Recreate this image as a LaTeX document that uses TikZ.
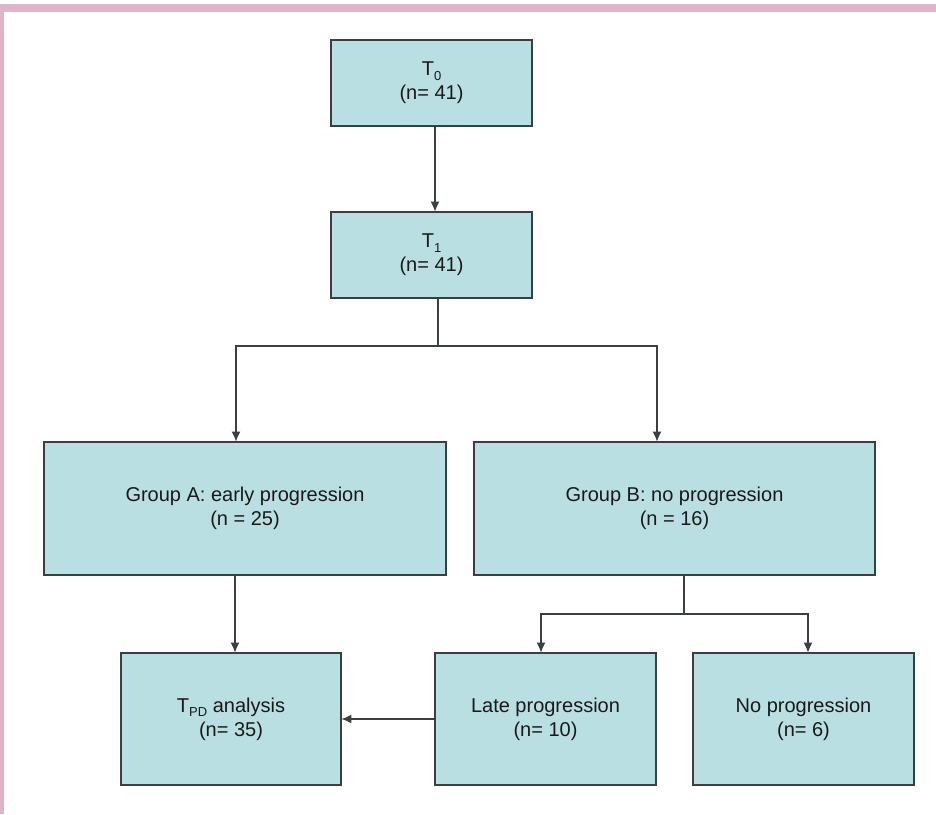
\documentclass[tikz,border=0pt]{standalone}
\usepackage{fontspec}
\setmainfont{Liberation Sans}
\usetikzlibrary{arrows.meta}
\definecolor{boxfill}{RGB}{186,223,226}
\definecolor{boxline}{RGB}{58,64,66}
\definecolor{pinkedge}{RGB}{221,181,200}
\definecolor{txt}{RGB}{25,25,25}
\tikzset{
  flowbox/.style={draw=boxline, fill=boxfill, line width=1.7pt, rectangle, align=center,
    inner sep=0pt, text=txt, font=\fontsize{20}{24}\selectfont},
  conn/.style={draw=boxline, line width=1.6pt},
  arr/.style={conn, -{Latex[length=10pt,width=9pt]}, shorten >=-0.5pt}
}
\newcommand{\lowsub}[1]{\raisebox{-0.45ex}{\fontsize{13}{13}\selectfont #1}}
\begin{document}
\begin{tikzpicture}[x=1pt,y=-1pt]
\useasboundingbox (0,0) rectangle (936,814);
\fill[white] (0,0) rectangle (936,814);
\fill[pinkedge] (0,4) rectangle (936,12);
\fill[pinkedge] (0,4) rectangle (4,814);

\node[flowbox, minimum width=201pt, minimum height=86pt] (T0) at (431.5,83) {T\lowsub{0}\\(n= 41)};
\node[flowbox, minimum width=201pt, minimum height=86pt] (T1) at (431.5,255) {T\lowsub{1}\\(n= 41)};
\node[flowbox, minimum width=402pt, minimum height=133pt] (A) at (245,508.5) {Group A: early progression\\(n = 25)};
\node[flowbox, minimum width=401pt, minimum height=133pt] (B) at (674.5,508.5) {Group B: no progression\\(n = 16)};
\node[flowbox, minimum width=220pt, minimum height=132pt] (TPD) at (231,719) {T\lowsub{PD} analysis\\(n= 35)};
\node[flowbox, minimum width=221pt, minimum height=132pt] (Late) at (545.5,719) {Late progression\\(n= 10)};
\node[flowbox, minimum width=221pt, minimum height=132pt] (NoP) at (803.5,719) {No progression\\(n= 6)};

% T0 -> T1
\coordinate (c01) at (435,0);
\draw[arr] (T0.south -| c01) -- (T1.north -| c01);

% T1 -> groups
\coordinate (j1) at (438,346);
\coordinate (aL) at (236,346);
\coordinate (aR) at (657,346);
\draw[conn] (T1.south -| j1) -- (j1);
\draw[arr] (j1) -- (aL) -- (aL |- A.north);
\draw[arr] (j1) -- (aR) -- (aR |- B.north);

% A -> TPD
\coordinate (cA) at (235,0);
\draw[arr] (A.south -| cA) -- (TPD.north -| cA);

% B -> Late / NoP
\coordinate (j2) at (684,614);
\coordinate (bL) at (541,614);
\coordinate (bR) at (808,614);
\draw[conn] (B.south -| j2) -- (j2);
\draw[arr] (j2) -- (bL) -- (bL |- Late.north);
\draw[arr] (j2) -- (bR) -- (bR |- NoP.north);

% Late -> TPD
\draw[arr] (Late.west) -- (TPD.east);
\end{tikzpicture}
\end{document}
